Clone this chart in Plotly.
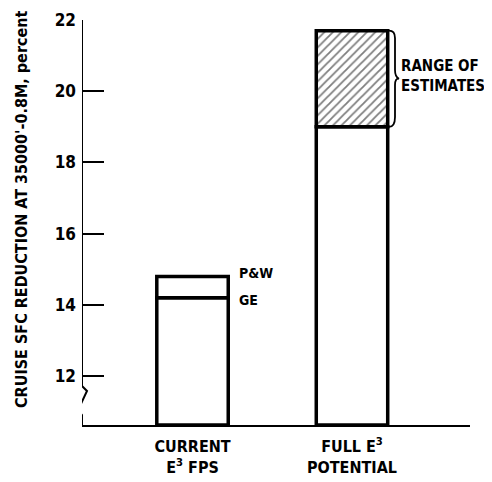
import plotly.graph_objects as go

# ---- data ----
categories = ["CURRENT<br>E<sup>3</sup> FPS", "FULL E<sup>3</sup><br>POTENTIAL"]
lower_values = [14.2, 19.0]   # GE / low estimate
upper_values = [14.8, 21.7]   # P&W / high estimate
axis_min = 10.63
axis_max = 22.0
y_ticks = [12, 14, 16, 18, 20, 22]
upper_patterns = ["", "/"]

FONT = "Liberation Sans Narrow, DejaVu Sans Condensed, Arial Narrow, sans-serif"
BAR_W = 0.448
X_RANGE = [-0.693, 1.740]

fig = go.Figure()
fig.add_trace(go.Bar(
    x=[0, 1], y=[v - axis_min for v in lower_values], base=[axis_min] * 2,
    width=BAR_W, marker=dict(color="white", line=dict(color="black", width=3.5)),
    showlegend=False, hoverinfo="skip"))
fig.add_trace(go.Bar(
    x=[0, 1], y=[u - l for u, l in zip(upper_values, lower_values)], base=lower_values,
    width=BAR_W,
    marker=dict(color="white", line=dict(color="black", width=3.5),
                pattern=dict(shape=upper_patterns, fgcolor="black", bgcolor="white",
                             size=6, solidity=0.3)),
    showlegend=False, hoverinfo="skip"))

# pixel helpers for decorations (reference pixel coordinates)
plot_l, plot_t, plot_w, plot_h = 82, 20, 388, 405
def px_x(px):
    return X_RANGE[0] + (px - plot_l) / plot_w * (X_RANGE[1] - X_RANGE[0])
def px_y(py):
    return axis_max - (py - plot_t) / plot_h * (axis_max - axis_min)

shapes = []
# y axis line with break squiggle
ax0 = px_x(82)
shapes.append(dict(type="line", x0=ax0, x1=ax0, y0=px_y(386), y1=axis_max,
                   line=dict(color="black", width=2)))
sq = [(82, 386), (87, 391), (78, 410), (82, 415), (82, 425)]
path = "M " + " L ".join(f"{px_x(a)},{px_y(b)}" for a, b in sq)
shapes.append(dict(type="path", path=path, line=dict(color="black", width=2)))
# brace
bm = (upper_values[1] + lower_values[1]) / 2
brace = (f"M {px_x(389)},{upper_values[1]} Q {px_x(395)},{upper_values[1]} {px_x(395)},{px_y(38)} "
         f"L {px_x(395)},{px_y(70)} Q {px_x(395)},{px_y(77)} {px_x(399)},{bm} "
         f"Q {px_x(395)},{px_y(78)} {px_x(395)},{px_y(85)} "
         f"L {px_x(395)},{px_y(117)} Q {px_x(395)},{lower_values[1]} {px_x(389)},{lower_values[1]}")
shapes.append(dict(type="path", path=brace, line=dict(color="black", width=1.8)))

BOLD = "bold"
half_bar_px = BAR_W / 2 * plot_w / (X_RANGE[1] - X_RANGE[0])
annotations = [
    dict(x=0, y=upper_values[0], text="P&W", xanchor="left", yanchor="middle",
         xshift=half_bar_px + 9, yshift=3,
         showarrow=False, font=dict(size=14, color="black", family=FONT, weight=BOLD)),
    dict(x=0, y=lower_values[0], text="GE", xanchor="left", yanchor="middle",
         xshift=half_bar_px + 9, yshift=-2,
         showarrow=False, font=dict(size=14, color="black", family=FONT, weight=BOLD)),
    dict(x=px_x(399), y=bm, text="RANGE OF<br>ESTIMATES", yshift=3,
         xanchor="left", yanchor="middle", align="left", showarrow=False,
         font=dict(size=15, color="black", family=FONT, weight=BOLD)),
    dict(x=0, xref="paper", y=0.531, yref="paper", xshift=-60, textangle=-90,
         text="CRUISE SFC REDUCTION AT 35000'-0.8M, percent", showarrow=False,
         xanchor="center", yanchor="middle",
         font=dict(size=16, color="black", family=FONT, weight=BOLD)),
]

# page body has an 8px margin, so the figure is shrunk by 8px and margins shifted
fig.update_layout(
    width=484, height=474, margin=dict(l=74, r=22, t=12, b=57, autoexpand=False),
    paper_bgcolor="white", plot_bgcolor="white", barmode="overlay",
    shapes=shapes, annotations=annotations,
    font=dict(family=FONT, color="black"),
    xaxis=dict(range=X_RANGE, tickmode="array", tickvals=[0, 1], ticktext=categories,
               showline=True, linecolor="black", linewidth=2, ticks="", showgrid=False,
               zeroline=False, automargin=False, ticklabelstandoff=6,
               tickfont=dict(size=16, color="black", family=FONT, weight=BOLD)),
    yaxis=dict(range=[axis_min, axis_max], tickvals=y_ticks, ticks="inside", ticklen=22,
               tickwidth=2, tickcolor="black", showline=False, showgrid=False, zeroline=False,
               automargin=False, ticklabelstandoff=5,
               tickfont=dict(size=17, color="black", family=FONT, weight=BOLD)),
)
fig.write_html("out.html")
